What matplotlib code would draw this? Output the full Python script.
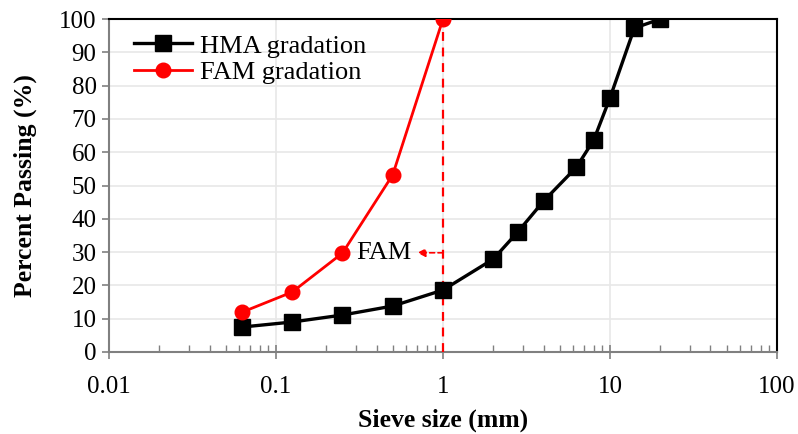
import matplotlib.pyplot as plt
from matplotlib.ticker import LogLocator, NullFormatter

plt.rcParams['font.family'] = ['Liberation Serif', 'DejaVu Serif']

# Gradation data (sieve size in mm, percent passing)
hma_sieve = [0.063, 0.125, 0.25, 0.5, 1, 2, 2.8, 4, 6.3, 8, 10, 14, 20]
hma_pass = [7.5, 9.0, 11.1, 13.8, 18.6, 27.9, 36.0, 45.3, 55.5, 63.7, 76.3, 97.3, 100]
fam_sieve = [0.063, 0.125, 0.25, 0.5, 1]
fam_pass = [12.0, 18.0, 29.7, 53.2, 100]

x_ticks = [0.01, 0.1, 1, 10, 100]
x_ticklabels = ['0.01', '0.1', '1', '10', '100']
cutoff = 1.0
fam_label_y = 29.8

fig = plt.figure(figsize=(7.98, 4.34), dpi=100)
ax = fig.add_axes([0.1366, 0.189, 0.837, 0.767])

ax.plot(hma_sieve, hma_pass, color='black', lw=2.4, marker='s', ms=11,
        label='HMA gradation', zorder=4)
ax.plot(fam_sieve, fam_pass, color='red', lw=2.0, marker='o', ms=10.5,
        label='FAM gradation', zorder=5)

# cutoff line and FAM annotation
ax.plot([cutoff, cutoff], [0, 100], color='red', lw=1.6, ls=(0, (4, 3)), zorder=3)
ax.annotate('', xy=(0.70, fam_label_y), xytext=(cutoff, fam_label_y),
            arrowprops=dict(arrowstyle='-|>', color='red', lw=1.2, ls=(0, (3, 2)),
                            mutation_scale=12, shrinkA=0, shrinkB=0))
ax.text(0.65, fam_label_y, 'FAM', fontsize=19, ha='right', va='center', zorder=6)

ax.set_xscale('log')
ax.set_xlim(0.01, 100)
ax.set_ylim(0, 100)
ax.set_xticks(x_ticks)
ax.set_xticklabels(x_ticklabels)
ax.xaxis.set_minor_locator(LogLocator(base=10, subs=range(2, 10)))
ax.xaxis.set_minor_formatter(NullFormatter())
ax.set_yticks(range(0, 101, 10))

ax.grid(True, which='major', color='#e8e8e8', lw=1.2, zorder=0)
ax.set_axisbelow(True)

for s in ['left', 'bottom']:
    ax.spines[s].set_color('#808080')
    ax.spines[s].set_linewidth(1.5)
for s in ['top', 'right']:
    ax.spines[s].set_color('black')
    ax.spines[s].set_linewidth(1.5)

ax.tick_params(axis='x', which='major', direction='inout', length=10, width=1.2,
               color='#808080', labelsize=18, pad=12)
ax.tick_params(axis='x', which='minor', direction='in', length=5, width=1.0,
               color='#808080')
ax.tick_params(axis='y', which='major', direction='out', length=5, width=1.2,
               color='#808080', labelsize=18, pad=4)

ax.set_xlabel('Sieve size (mm)', fontsize=18.5, fontweight='bold', labelpad=8)
ax.set_ylabel('Percent Passing (%)', fontsize=18.5, fontweight='bold', labelpad=16)

ax.legend(loc='upper left', bbox_to_anchor=(0.01, 1.01), frameon=False,
          fontsize=19, handlelength=2.2, handletextpad=0.3, labelspacing=0.1,
          borderaxespad=0.3)

fig.savefig('out.png', dpi=100)
